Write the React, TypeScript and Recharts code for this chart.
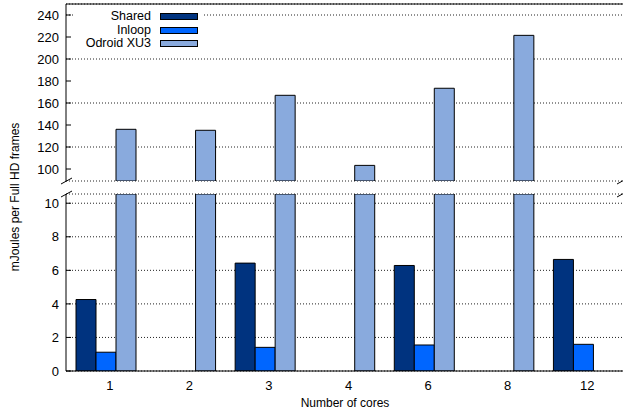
import React from "react";
import { Bar, BarChart, CartesianGrid, XAxis, YAxis } from "recharts";

// values (mJoules per Full HD frame)
const cores = ["1", "2", "3", "4", "6", "8", "12"];
const shared = [4.26, null, 6.43, null, 6.29, null, 6.65];
const inloop = [1.12, null, 1.41, null, 1.55, null, 1.59];
const odroid = [136.1, 135.2, 167.0, 103.3, 173.4, 221.5, null];

const topTicks = [100, 120, 140, 160, 180, 200, 220, 240];
const bottomTicks = [0, 2, 4, 6, 8, 10];
const edgeTicks = [1, 2, 3, 4, 5, 6];

const TOP_MIN = 89.1;
const TOP_MAX = 250;
const BOTTOM_MAX = 10.55;

const series = [
  { key: "shared", name: "Shared", color: "#00337f" },
  { key: "inloop", name: "Inloop", color: "#0066ff" },
  { key: "odroid", name: "Odroid XU3", color: "#89aadd" },
];

const topRows = cores.map((c, i) => ({
  cores: c,
  shared: null,
  inloop: null,
  odroid: odroid[i],
}));

const bottomRows = cores.map((c, i) => ({
  cores: c,
  shared: shared[i],
  inloop: inloop[i],
  odroid: odroid[i] == null ? null : Math.min(odroid[i] as number, BOTTOM_MAX),
}));

const W = 623;
const H = 415;
const font = '"Liberation Sans", Arial, Helvetica, sans-serif';
const tickStyle = { fontSize: 13, fill: "#000", fontFamily: font };
const black = { stroke: "#000" };

function Bars(axisId: string) {
  return series.map((s) => (
    <Bar
      key={s.key}
      xAxisId={axisId}
      dataKey={s.key}
      name={s.name}
      fill={s.color}
      stroke="#000"
      strokeWidth={1}
      isAnimationActive={false}
    />
  ));
}

export default function App() {
  return (
    <div style={{ position: "absolute", left: 0, top: 0, width: W, height: H, fontFamily: font, background: "#fff" }}>
      <div style={{ position: "absolute", left: 0, top: 0 }}>
        <BarChart
          width={W}
          height={182}
          data={topRows}
          margin={{ top: 3, right: 0, bottom: 1, left: 0 }}
          barCategoryGap={10}
          barGap={0}
        >
          <CartesianGrid xAxisId="b" vertical={false} stroke="#222" strokeDasharray="1 2" />
          <XAxis xAxisId="b" dataKey="cores" orientation="top" height={1} tick={false} tickLine={false} axisLine={black} />
          <YAxis
            width={66}
            domain={[TOP_MIN, TOP_MAX]}
            ticks={topTicks}
            allowDataOverflow
            tickSize={-5}
            tickMargin={12}
            tick={tickStyle}
            axisLine={black}
            tickLine={black}
          />
          {Bars("b")}
        </BarChart>
      </div>
      <div style={{ position: "absolute", left: 0, top: 0 }}>
        <BarChart
          width={W}
          height={H}
          data={bottomRows}
          margin={{ top: 194, right: 0, bottom: 13, left: 0 }}
          barCategoryGap={10}
          barGap={0}
        >
          <CartesianGrid xAxisId="b" vertical={false} stroke="#222" strokeDasharray="1 2" />
          <XAxis xAxisId="b" dataKey="cores" height={30} tickLine={false} axisLine={false} tick={tickStyle} dx={4} dy={1} />
          <XAxis
            xAxisId="a"
            type="number"
            domain={[0, 7]}
            ticks={edgeTicks}
            height={1}
            tick={false}
            tickSize={-5}
            axisLine={black}
            tickLine={black}
          />
          <YAxis
            width={66}
            domain={[0, BOTTOM_MAX]}
            ticks={bottomTicks}
            allowDataOverflow
            tickSize={-5}
            tickMargin={12}
            tick={tickStyle}
            axisLine={black}
            tickLine={black}
          />
          {Bars("b")}
        </BarChart>
      </div>
      <div
        style={{
          position: "absolute",
          left: 74,
          top: 6,
          width: 130,
          height: 44,
          background: "#fff",
          paddingTop: 4,
          boxSizing: "border-box",
          fontSize: 12.5,
        }}
      >
        {series.map((s) => (
          <div key={s.key} style={{ display: "flex", alignItems: "center", height: 13.5 }}>
            <span style={{ width: 77, textAlign: "right", lineHeight: "13.5px" }}>{s.name}</span>
            <span
              style={{
                marginLeft: 9,
                width: 38,
                height: 7,
                background: s.color,
                border: "1px solid #000",
                boxSizing: "border-box",
              }}
            />
          </div>
        ))}
      </div>
      <svg width={W} height={H} style={{ position: "absolute", left: 0, top: 0, pointerEvents: "none" }}>
        <g stroke="#000" strokeWidth={1}>
          <line x1={61} y1={184} x2={72} y2={178} />
          <line x1={61} y1={197} x2={72} y2={191} />
          <line x1={617} y1={184} x2={628} y2={178} />
          <line x1={617} y1={197} x2={628} y2={191} />
        </g>
        <text
          x={14.5}
          y={197}
          transform="rotate(-90 14.5 197)"
          textAnchor="middle"
          dominantBaseline="central"
          fontSize={12}
          fontFamily={font}
        >
          mJoules per Full HD frames
        </text>
        <text x={345} y={403} textAnchor="middle" dominantBaseline="central" fontSize={12} fontFamily={font}>
          Number of cores
        </text>
      </svg>
    </div>
  );
}
